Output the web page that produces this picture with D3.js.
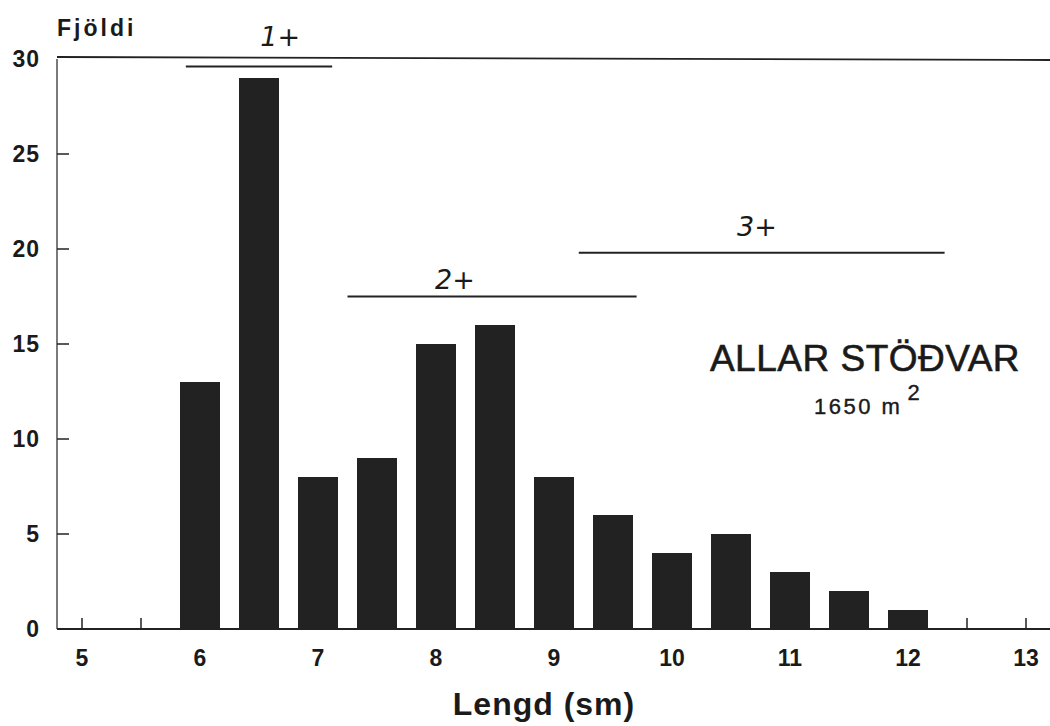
<!DOCTYPE html>
<html>
<head>
<meta charset="utf-8">
<script src="https://cdn.jsdelivr.net/npm/d3@7"></script>
<style>
body { margin: 0; background: #fff; }
text { font-family: "Liberation Sans", Arial, sans-serif; fill: #1a1a1a; }
</style>
</head>
<body>
<script>
// lengths (sm) and counts
var lengths = [6, 6.5, 7, 7.5, 8, 8.5, 9, 9.5, 10, 10.5, 11, 11.5, 12];
var counts = [13, 29, 8, 9, 15, 16, 8, 6, 4, 5, 3, 2, 1];
var xTicks = [5, 6, 7, 8, 9, 10, 11, 12, 13];
var xMinor = [5, 5.5, 12.5, 13];
var yTicks = [0, 5, 10, 15, 20, 25, 30];

// age groups drawn as horizontal lines
var ageNames = ["1+", "2+", "3+"];
var ageFrom = [5.88, 7.25, 9.21];
var ageTo = [7.12, 9.7, 12.31];
var ageLevel = [29.6, 17.5, 19.8];
var ageLabelX = [6.68, 8.16, 10.72];
var ageLabelY = [31.2, 18.4, 21.2];

var W = 1050, H = 726;
var svg = d3.select('body').append('svg')
  .attr('width', W).attr('height', H);

var x = d3.scaleLinear().domain([5, 13]).range([82, 1026]);
var y = d3.scaleLinear().domain([0, 30]).range([629, 59]);
var left = 57, right = 1050;
var barW = 40;

// bars
svg.selectAll('rect.bar').data(lengths).enter().append('rect')
  .attr('class', 'bar')
  .attr('x', function(d) { return x(d) - barW / 2; })
  .attr('y', function(d, i) { return y(counts[i]); })
  .attr('width', barW)
  .attr('height', function(d, i) { return y(0) - y(counts[i]); })
  .attr('fill', '#222');

// frame: left axis, bottom axis, top line
svg.append('line').attr('x1', left).attr('x2', left).attr('y1', y(30)).attr('y2', y(0))
  .attr('stroke', '#333').attr('stroke-width', 1.3);
svg.append('line').attr('x1', left).attr('x2', right).attr('y1', y(0)).attr('y2', y(0))
  .attr('stroke', '#222').attr('stroke-width', 2);
svg.append('line').attr('x1', left).attr('x2', right).attr('y1', y(30) - 2).attr('y2', y(30) + 1)
  .attr('stroke', '#222').attr('stroke-width', 1.8);

// y ticks (pointing inward)
svg.selectAll('line.yt').data(yTicks.slice(1, 6)).enter().append('line')
  .attr('x1', left).attr('x2', left + 12)
  .attr('y1', function(d) { return y(d); }).attr('y2', function(d) { return y(d); })
  .attr('stroke', '#222').attr('stroke-width', 1.5);

svg.selectAll('text.yl').data(yTicks).enter().append('text')
  .attr('x', 40)
  .attr('y', function(d) { return y(d); })
  .attr('dy', '0.36em')
  .attr('text-anchor', 'end')
  .style('font-size', '23px')
  .style('font-weight', 'bold')
  .style('letter-spacing', '1px')
  .text(function(d) { return d; });

// x ticks where no bars cover them
svg.selectAll('line.xt').data(xMinor).enter().append('line')
  .attr('x1', function(d) { return x(d); }).attr('x2', function(d) { return x(d); })
  .attr('y1', y(0)).attr('y2', y(0) - 11)
  .attr('stroke', '#222').attr('stroke-width', 1.5);

svg.selectAll('text.xl').data(xTicks).enter().append('text')
  .attr('x', function(d) { return x(d); })
  .attr('y', 666)
  .attr('text-anchor', 'middle')
  .style('font-size', '23px')
  .style('font-weight', 'bold')
  .text(function(d) { return d; });

svg.append('text').attr('x', 544).attr('y', 715).attr('text-anchor', 'middle')
  .style('font-size', '32px').style('font-weight', 'bold').style('letter-spacing', '1px')
  .text('Lengd (sm)');

svg.append('text').attr('x', 57).attr('y', 36)
  .style('font-size', '23px').style('font-weight', 'bold').style('letter-spacing', '3px')
  .text('Fjöldi');

// age group lines
svg.selectAll('line.age').data(ageNames).enter().append('line')
  .attr('x1', function(d, i) { return x(ageFrom[i]); })
  .attr('x2', function(d, i) { return x(ageTo[i]); })
  .attr('y1', function(d, i) { return y(ageLevel[i]); })
  .attr('y2', function(d, i) { return y(ageLevel[i]); })
  .attr('stroke', '#222').attr('stroke-width', 2);

svg.selectAll('text.age').data(ageNames).enter().append('text')
  .attr('x', function(d, i) { return x(ageLabelX[i]); })
  .attr('y', function(d, i) { return y(ageLabelY[i]); })
  .attr('dy', '0.35em')
  .attr('text-anchor', 'middle')
  .style('font-family', '"DejaVu Sans", sans-serif')
  .style('font-style', 'italic')
  .style('font-weight', '200')
  .style('font-size', '27px')
  .text(function(d) { return d; });

// station label
svg.append('text').attr('x', 865).attr('y', 371).attr('text-anchor', 'middle')
  .style('font-size', '37px').style('letter-spacing', '0.5px')
  .style('stroke', '#1a1a1a').style('stroke-width', 0.6)
  .text('ALLAR STÖÐVAR');
var area = svg.append('text').attr('x', 814).attr('y', 414)
  .style('font-size', '22px').style('letter-spacing', '2.5px')
  .style('stroke', '#1a1a1a').style('stroke-width', 0.4);
area.append('tspan').text('1650 m');
area.append('tspan').attr('dy', -14).attr('dx', 5).style('font-size', '22px').text('2');
</script>
</body>
</html>
